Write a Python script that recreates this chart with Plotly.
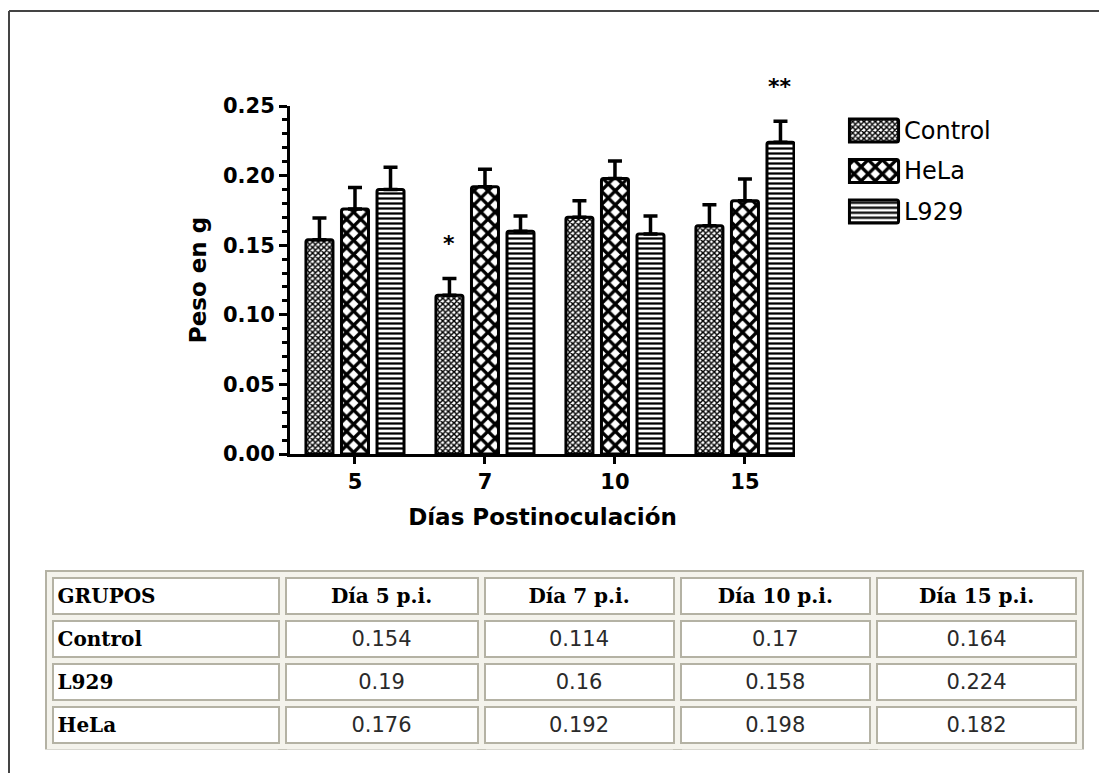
import plotly.graph_objects as go

# ---------------- data ----------------
days = ['5', '7', '10', '15']
groups = ['Control', 'HeLa', 'L929']
control = [0.154, 0.114, 0.170, 0.164]
hela = [0.176, 0.192, 0.198, 0.182]
l929 = [0.190, 0.160, 0.158, 0.224]
control_err = [0.0155, 0.012, 0.012, 0.015]
hela_err = [0.0155, 0.0125, 0.0125, 0.0155]
l929_err = [0.016, 0.011, 0.013, 0.015]

y_tickvals = [0.0, 0.05, 0.10, 0.15, 0.20, 0.25]
y_ticktext = ['0.00', '0.05', '0.10', '0.15', '0.20', '0.25']

sig_day_index = [1, 3]
sig_group_index = [0, 2]
sig_text = ['*', '**']

table_header = ['GRUPOS', 'Día 5 p.i.', 'Día 7 p.i.', 'Día 10 p.i.', 'Día 15 p.i.']
table_rows = ['Control', 'L929', 'HeLa']

# ---------------- styles ----------------
W, H = 1107, 773
OFF = 8  # page body margin in the browser
SANS = 'DejaVu Sans'
SERIF = 'DejaVu Serif'
Y_MAX = 0.25
BARGAP = 0.18
BARGROUPGAP = 0.24

def px_x(p):
    return (p - OFF) / W

def px_y(p):
    return 1 - (p - OFF) / H

patterns = {
    'Control': dict(shape='x', size=4, solidity=0.6),
    'HeLa': dict(shape='x', size=10, solidity=0.55),
    'L929': dict(shape='-', size=5, solidity=0.45),
}
values = {'Control': control, 'HeLa': hela, 'L929': l929}
errors = {'Control': control_err, 'HeLa': hela_err, 'L929': l929_err}

fig = go.Figure()

for g in groups:
    pat = patterns[g]
    fig.add_trace(go.Bar(
        name=g, x=days, y=values[g],
        marker=dict(color='white',
                    line=dict(color='black', width=3),
                    pattern=dict(shape=pat['shape'], size=pat['size'],
                                 solidity=pat['solidity'], fgcolor='black',
                                 bgcolor='white', fillmode='replace')),
        error_y=dict(type='data', symmetric=False, array=errors[g],
                     arrayminus=[0] * len(days), color='black',
                     thickness=3.5, width=7),
        showlegend=False,
    ))

# legend drawn as a tiny bar subplot (large patterned swatches)
fig.add_trace(go.Bar(
    y=groups, x=[1] * len(groups), orientation='h', width=0.57,
    xaxis='x2', yaxis='y2', showlegend=False, hoverinfo='skip',
    marker=dict(color='white', line=dict(color='black', width=3),
                pattern=dict(shape=[patterns[g]['shape'] for g in groups],
                             size=[patterns[g]['size'] for g in groups],
                             solidity=[patterns[g]['solidity'] for g in groups],
                             fgcolor='black', bgcolor='white', fillmode='replace')),
))

# ---------------- table ----------------
def fmt(v):
    return f"{v:g}"

row_series = {'Control': control, 'L929': l929, 'HeLa': hela}
columns = [table_rows] + [[fmt(row_series[r][j]) for r in table_rows] for j in range(len(days))]
colwidths = [232.5, 199, 196, 196.5, 206]
tbl_domain_x = [px_x(49.5), px_x(1079.5)]
tbl_domain_y = [px_y(750), px_y(574.5)]
txt_domain_y = [px_y(755), px_y(579.5)]
row_h = 43
blank_header = [''] * 5
blank_cells = [[''] * 3] * 5
clear = 'rgba(0,0,0,0)'

# grey cell edges
fig.add_trace(go.Table(
    domain=dict(x=tbl_domain_x, y=tbl_domain_y), columnwidth=colwidths,
    header=dict(values=blank_header, height=row_h, fill_color='white',
                line=dict(color='#b4b2a4', width=9)),
    cells=dict(values=blank_cells, height=row_h, fill_color='white',
               line=dict(color='#b4b2a4', width=9)),
))
# light gaps between cells
fig.add_trace(go.Table(
    domain=dict(x=tbl_domain_x, y=tbl_domain_y), columnwidth=colwidths,
    header=dict(values=blank_header, height=row_h, fill_color=clear,
                line=dict(color='#f4f3ec', width=5)),
    cells=dict(values=blank_cells, height=row_h, fill_color=clear,
               line=dict(color='#f4f3ec', width=5)),
))
# cell texts
fig.add_trace(go.Table(
    domain=dict(x=tbl_domain_x, y=txt_domain_y), columnwidth=colwidths,
    header=dict(values=table_header, height=row_h,
                align=['left'] + ['center'] * 4,
                fill_color=clear, line=dict(color=clear, width=0),
                font=dict(family=SERIF, size=20, color='black', weight='bold')),
    cells=dict(values=columns, height=row_h,
               align=['left'] + ['center'] * 4,
               fill_color=clear, line=dict(color=clear, width=0),
               font=dict(family=[SERIF] + [SANS] * 4, size=[20] + [21] * 4,
                         weight=['bold'] + ['normal'] * 4,
                         color=['black'] + ['#2a2a2a'] * 4)),
))

# significance marks
bar_slot = (1 - BARGAP) / 3
annotations = []
for di, gi, t in zip(sig_day_index, sig_group_index, sig_text):
    g = groups[gi]
    annotations.append(dict(
        x=di + (gi - 1) * bar_slot,
        y=(values[g][di] + errors[g][di] + 0.025) / Y_MAX,
        xref='x', yref='y domain', text=t, showarrow=False, yanchor='middle',
        font=dict(family=SANS, size=22, color='black', weight='bold')))

fig.update_layout(
    width=W, height=H,
    margin=dict(l=0, r=0, t=0, b=0, autoexpand=False),
    paper_bgcolor='white', plot_bgcolor='white',
    barmode='group', bargap=BARGAP, bargroupgap=BARGROUPGAP,
    barcornerradius=2,
    showlegend=False,
    xaxis=dict(domain=[px_x(290), px_x(795)], type='category',
               categoryorder='array', categoryarray=days, automargin=False,
               range=[-0.5, 3.385], showline=True, linecolor='black', linewidth=3,
               ticks='outside', ticklen=7, tickwidth=3, tickcolor='black',
               tickfont=dict(family=SANS, size=21, color='black', weight='bold'),
               showgrid=False, zeroline=False,
               title=dict(text='Días Postinoculación', standoff=16,
                          font=dict(family=SANS, size=23, color='black', weight='bold'))),
    yaxis=dict(domain=[px_y(454), px_y(106)], range=[0, Y_MAX], automargin=False,
               tickvals=y_tickvals, ticktext=y_ticktext,
               showline=True, linecolor='black', linewidth=3,
               ticks='outside', ticklen=8, tickwidth=3, tickcolor='black',
               minor=dict(dtick=0.01, ticks='outside', ticklen=5, tickwidth=2.5,
                          tickcolor='black', showgrid=False),
               tickfont=dict(family=SANS, size=21, color='black', weight='bold'),
               showgrid=False, zeroline=False,
               title=dict(text='Peso en g', standoff=10,
                          font=dict(family=SANS, size=23, color='black', weight='bold'))),
    xaxis2=dict(domain=[px_x(847), px_x(901)], anchor='y2', range=[-0.05, 1.05],
                visible=False, fixedrange=True, automargin=False),
    yaxis2=dict(domain=[px_y(231.75), px_y(110.25)], anchor='x2', side='right',
                type='category', categoryorder='array', automargin=False,
                categoryarray=list(reversed(groups)),
                showline=False, showgrid=False, zeroline=False, ticks='',
                ticklabelstandoff=2,
                tickfont=dict(family=SANS, size=24, color='black')),
    annotations=annotations,
    shapes=[
        dict(type='line', xref='paper', yref='paper', x0=px_x(9), x1=1,
             y0=px_y(11), y1=px_y(11), line=dict(color='#444444', width=2)),
        dict(type='line', xref='paper', yref='paper', x0=px_x(9), x1=px_x(9),
             y0=0, y1=px_y(11), line=dict(color='#444444', width=2)),
    ],
)

fig.write_html('out.html')
